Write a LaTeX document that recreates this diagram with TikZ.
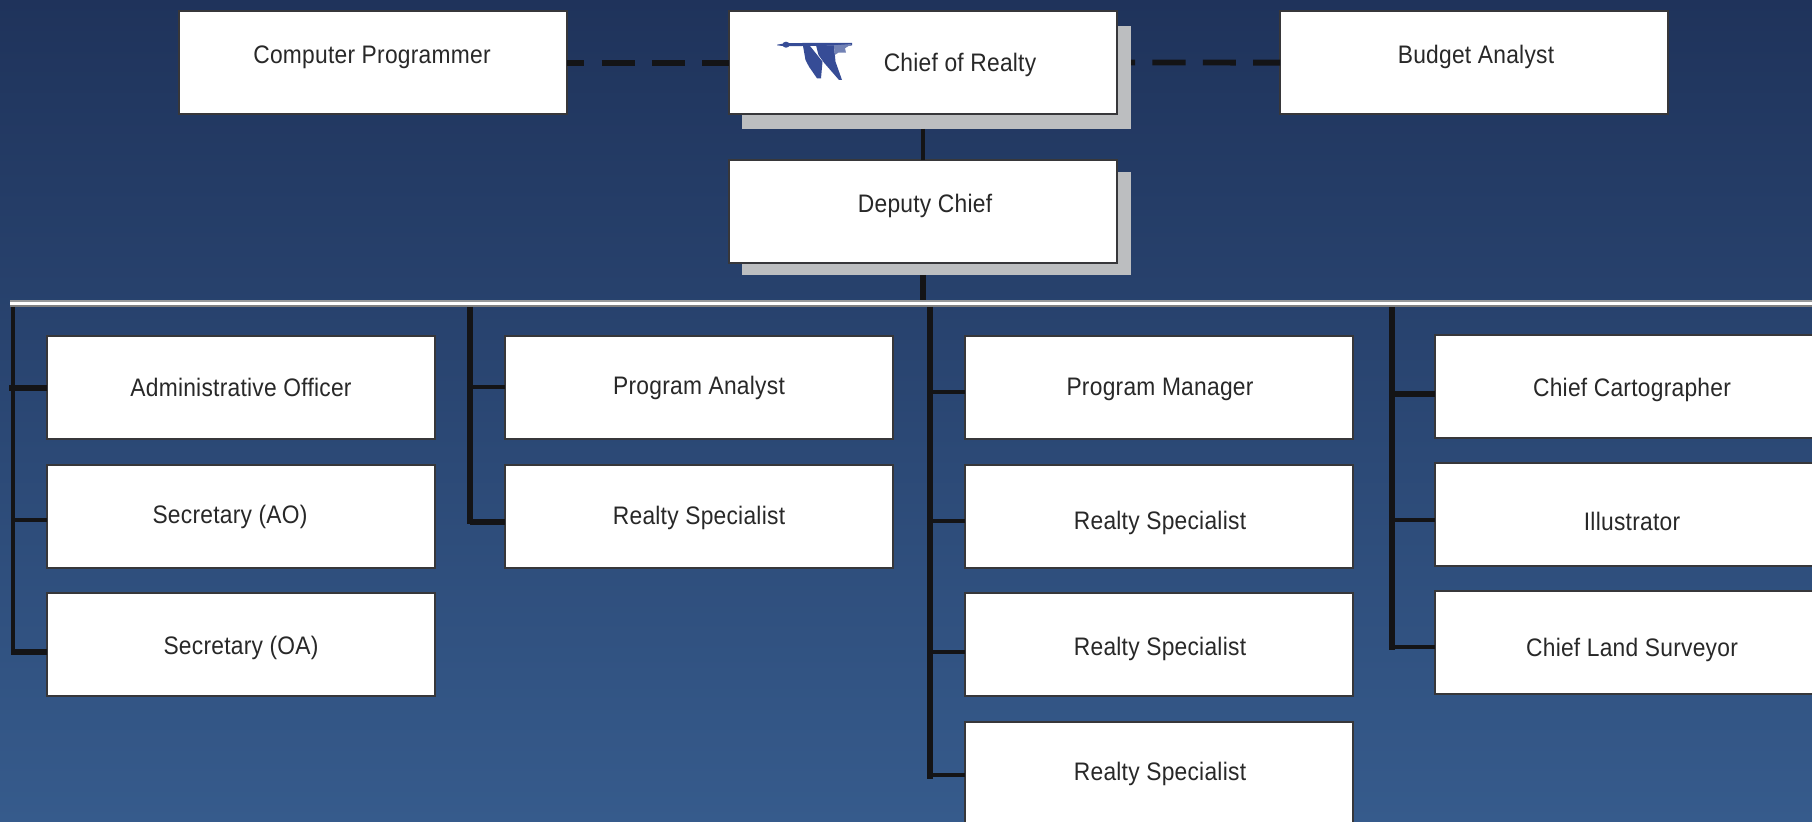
\documentclass[tikz,border=0pt]{standalone}
\usepackage{fontspec}
\setmainfont[FakeStretch=0.90,LetterSpace=1.0]{Liberation Sans}
\usetikzlibrary{calc}
\definecolor{bgtop}{RGB}{31,51,91}
\definecolor{bgbottom}{RGB}{54,91,140}
\definecolor{shadowgray}{RGB}{188,190,192}
\definecolor{linkblack}{RGB}{20,20,22}
\definecolor{edgegray}{RGB}{55,55,58}
\definecolor{goose}{RGB}{54,76,150}
\definecolor{textgray}{RGB}{40,40,40}
\tikzset{
    boxnode/.style={draw=edgegray,fill=white,line width=0.5pt,minimum width=3.88cm,minimum height=1.03cm,inner sep=0pt,outer sep=0pt,anchor=north west},
    shadownode/.style={fill=shadowgray,minimum width=3.89cm,minimum height=1.03cm,inner sep=0pt,outer sep=0pt,anchor=south east},
    lbl/.style={anchor=base,inner sep=0pt,text=textgray,font=\fontsize{7.2}{9}\selectfont},
    thinlink/.style={draw=linkblack,line width=1.1pt},
    thicklink/.style={draw=linkblack,line width=1.7pt},
    dashlink/.style={draw=linkblack,line width=1.7pt,dash pattern=on 9.4pt off 4.9pt,dash phase=4.5pt}
}
\begin{document}
\begin{tikzpicture}[line cap=butt,line join=miter,x=0.01cm,y=-0.01cm]
    \path[use as bounding box,clip] (0,0) rectangle (1812,822);
    \fill [top color=bgtop,bottom color=bgbottom] (0,0) rectangle (1812,822);
    % top row
    \node [boxnode] (compprog) at (179,11) {};
    \node [boxnode] (budget) at (1280,11) {};
    \coordinate (chiefeast) at (1118,62.5);
    \draw [dashlink] (chiefeast) -- (budget.west);
    % shadows
    \node [shadownode] (chiefshadow) at (1131,129) {};
    \node [shadownode] (deputyshadow) at (1131,275) {};
    \node [boxnode] (chief) at (729,11) {};
    \node [boxnode] (deputy) at (729,160) {};
    % long bar
    \fill [color=white] (10,300) rectangle (1812,307);
    \fill [color=shadowgray!80!black] (10,300) rectangle (1812,302);
    \fill [color=gray] (10,305) rectangle (1812,307);
    \coordinate (barleft) at (10,300);
    % first column
    \node [boxnode] (adminoff) at (47,336) {};
    \node [boxnode] (secao) at (47,465) {};
    \node [boxnode] (secoa) at (47,593) {};
    % second column
    \node [boxnode] (proganalyst) at (505,336) {};
    \node [boxnode] (realtyA) at (505,465) {};
    % third column
    \node [boxnode] (progman) at (965,336) {};
    \node [boxnode] (realtyB) at (965,465) {};
    \node [boxnode] (realtyC) at (965,593) {};
    \node [boxnode] (realtyD) at (965,722) {};
    % fourth column
    \node [boxnode] (chiefcart) at (1435,335) {};
    \node [boxnode] (illus) at (1435,463) {};
    \node [boxnode] (chiefland) at (1435,591) {};
    % links of the top
    \draw [dashlink] (compprog.east) -- (chief.west);
    \draw [thinlink,xshift=-0.4pt] (chief.south |- chiefshadow.south) -- (chief.south |- deputy.north);
    \draw [thicklink] (deputy.south |- deputyshadow.south) -- (deputy.south |- barleft);
    % trunks
    \coordinate (trunkA) at (13,307);
    \coordinate (trunkB) at (470,307);
    \coordinate (trunkC) at (930,307);
    \coordinate (trunkD) at (1392,307);
    \coordinate (endA) at (13,654);
    \coordinate (endB) at (470,524);
    \coordinate (endC) at (930,779);
    \coordinate (endD) at (1392,650);
    \draw [thinlink] (trunkA) -- (endA);
    \draw [thicklink] (trunkB) -- (endB);
    \draw [thicklink] (trunkC) -- (endC);
    \draw [thicklink] (trunkD) -- (endD);
    % branches
    \coordinate (brAa) at (9,388);
    \coordinate (brAb) at (13,520);
    \coordinate (brAc) at (11,652);
    \coordinate (brBa) at (470,387);
    \coordinate (brBb) at (470,522);
    \coordinate (brCa) at (930,392);
    \coordinate (brCb) at (930,521);
    \coordinate (brCc) at (930,652);
    \coordinate (brCd) at (930,775);
    \coordinate (brDa) at (1392,394);
    \coordinate (brDb) at (1392,520);
    \coordinate (brDc) at (1392,647);
    \draw [thicklink] (brAa) -- (brAa -| adminoff.west);
    \draw [thinlink] (brAb) -- (brAb -| secao.west);
    \draw [thicklink] (brAc) -- (brAc -| secoa.west);
    \draw [thinlink] (brBa) -- (brBa -| proganalyst.west);
    \draw [thicklink] (brBb) -- (brBb -| realtyA.west);
    \draw [thinlink] (brCa) -- (brCa -| progman.west);
    \draw [thinlink] (brCb) -- (brCb -| realtyB.west);
    \draw [thinlink] (brCc) -- (brCc -| realtyC.west);
    \draw [thinlink] (brCd) -- (brCd -| realtyD.west);
    \draw [thicklink] (brDa) -- (brDa -| chiefcart.west);
    \draw [thinlink] (brDb) -- (brDb -| illus.west);
    \draw [thicklink,line width=1.3pt] (brDc) -- (brDc -| chiefland.west);
    % goose
    \fill [color=goose] (777,44.7) -- (785,43.3) -- (803,43) -- (852,43) -- (852,45.5) -- (803,46) -- (785,46.3) -- (777,45.3) -- cycle;
    \fill [color=goose] (786,44.7) ellipse (3.5 and 3);
    \fill [color=goose] (803,46) -- (810,46) -- (818,56) -- (822.5,61.7) -- (821,78.3) -- (817,78.3) -- (809,66.7) -- (805.5,60) -- cycle;
    \fill [color=goose] (816,45.3) -- (834,45.3) -- (835.5,61.7) -- (842,80) -- (839,80) -- (824,62.7) -- (818.5,55) -- cycle;
    \fill [color=goose!70!white] (834,45.3) -- (851.7,44) -- (845,48.3) -- (846,52.7) -- (838.3,52.7) -- (834.7,55) -- cycle;
    % labels
    \node [lbl] (compprogt) at (372,64) {Computer Programmer};
    \node [lbl] (chieft) at (960,71.5) {Chief of Realty};
    \node [lbl] (budgett) at (1476,64) {Budget Analyst};
    \node [lbl] (deputyt) at (925,213) {Deputy Chief};
    \node [lbl] (adminofft) at (241,397) {Administrative Officer};
    \node [lbl] (secaot) at (230,524) {Secretary (AO)};
    \node [lbl] (secoat) at (241,655) {Secretary (OA)};
    \node [lbl] (proganalystt) at (699,395) {Program Analyst};
    \node [lbl] (realtyAt) at (699,525) {Realty Specialist};
    \node [lbl] (progmant) at (1160,396) {Program Manager};
    \node [lbl] (realtyBt) at (1160,530) {Realty Specialist};
    \node [lbl] (realtyCt) at (1160,656) {Realty Specialist};
    \node [lbl] (realtyDt) at (1160,781) {Realty Specialist};
    \node [lbl] (chiefcartt) at (1632,397) {Chief Cartographer};
    \node [lbl] (illust) at (1632,531) {Illustrator};
    \node [lbl] (chieflandt) at (1632,657) {Chief Land Surveyor};
\end{tikzpicture}
\end{document}
